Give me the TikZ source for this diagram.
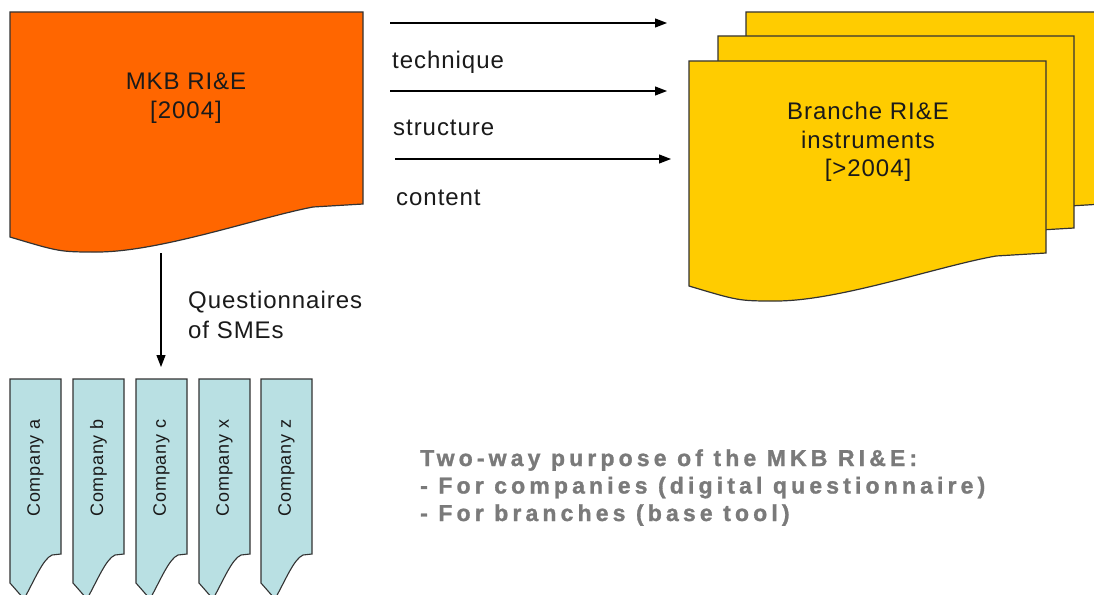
\documentclass[tikz,border=0pt]{standalone}
\usepackage{fontspec}
\setmainfont{Liberation Sans}
\newfontfamily\notefont{Liberation Sans Bold}[LetterSpace=18, FakeBold=1.2]
\usetikzlibrary{arrows.meta}
\definecolor{mkborange}{HTML}{FF6600}
\definecolor{branchyellow}{HTML}{FFCC00}
\definecolor{tabblue}{HTML}{B9E0E3}
\definecolor{edgegray}{HTML}{333333}
\definecolor{txtdark}{HTML}{1A1A1A}
\definecolor{notegray}{HTML}{7A7A7A}
\newcommand\wavedoc[4]{%
  \begin{scope}[shift={(#2,#3)}]
    \path[#1] (0,0) -- (#4,0) -- (#4,192) -- ({#4-50},195)
      .. controls (250,205) and (150,240) .. (87,240)
      .. controls (50,240) .. (0,225) -- cycle;
  \end{scope}}
\newcommand\companytab[2]{%
  \begin{scope}[shift={(#1,379)}]
    \path[tabstyle] (0,0) -- (51,0) -- (51,175) -- (42,176)
      .. controls (33,180) and (25,200) .. (14,220) -- (0,204) -- cycle;
    \node[comptext] (#2) at (25.5,89) {Company #2};
  \end{scope}}
\tikzset{
  docline/.style={draw=edgegray, line width=1.2pt},
  tabstyle/.style={draw=edgegray, line width=1.1pt, fill=tabblue},
  maintext/.style={text=txtdark, font=\fontsize{24}{29}\selectfont\addfontfeatures{LetterSpace=4}, inner sep=0pt},
  comptext/.style={text=txtdark, rotate=90, font=\fontsize{18}{22}\selectfont\addfontfeatures{LetterSpace=4}, inner sep=0pt},
  notetext/.style={text=notegray, anchor=base west, inner sep=0pt, font=\notefont\fontsize{23}{27.5}\selectfont},
  flowarrow/.style={draw=black, line width=1.2pt, -{Triangle[length=12pt,width=9pt]}}
}
\begin{document}
\begin{tikzpicture}[x=1pt,y=-1pt]
\clip (0,0) rectangle (1094,594);
\fill[white] (0,0) rectangle (1094,594);
% MKB document
\wavedoc{docline, fill=mkborange}{10}{12}{353}
\node[maintext, align=center] (mkb) at (186,98) {MKB RI\&E\\{[}2004{]}};
% Branche documents stack
\wavedoc{docline, fill=branchyellow}{746}{12}{357}
\wavedoc{docline, fill=branchyellow}{718}{36}{356}
\wavedoc{docline, fill=branchyellow}{689}{61}{357}
\node[maintext, align=center, font=\fontsize{24}{28.5}\selectfont\addfontfeatures{LetterSpace=4}] (branche) at (868,142) {Branche RI\&E\\instruments\\{[}>2004{]}};
% horizontal arrows
\coordinate (a1s) at (390,23);  \coordinate (a1e) at (667,23);
\coordinate (a2s) at (390,91);  \coordinate (a2e) at (667,91);
\coordinate (a3s) at (395,159); \coordinate (a3e) at (671,159);
\draw[flowarrow] (a1s) -- (a1e);
\draw[flowarrow] (a2s) -- (a2e);
\draw[flowarrow] (a3s) -- (a3e);
\node[maintext, anchor=base west] (technique) at (392,69) {technique};
\node[maintext, anchor=base west] (structure) at (393,135) {structure};
\node[maintext, anchor=base west] (content) at (396,205) {content};
% company tabs
\companytab{10}{a}
\companytab{73}{b}
\companytab{136}{c}
\companytab{199}{x}
\companytab{261}{z}
% down arrow
\coordinate (qs) at (161,253);
\coordinate (qe) at (161,367);
\draw[flowarrow] (qs) -- (qe);
\node[maintext, anchor=base west] (quest) at (188,308) {Questionnaires};
\node[maintext, anchor=base west] (smes) at (188,338) {of SMEs};
% note
\node[notetext] (note1) at (420,466) {Two-way purpose of the MKB RI\&E:};
\node[notetext] (note2) at (420,493.5) {- For companies (digital questionnaire)};
\node[notetext] (note3) at (420,521) {- For branches (base tool)};
\end{tikzpicture}
\end{document}
